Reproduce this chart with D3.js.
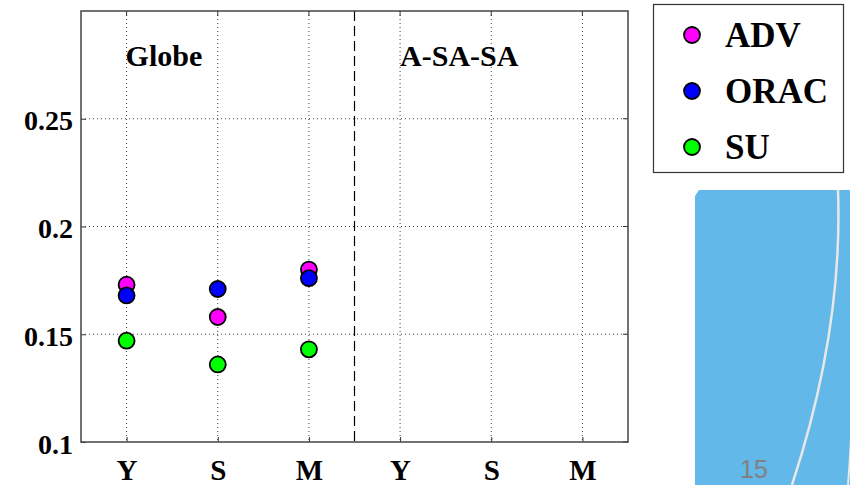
<!DOCTYPE html>
<html><head><meta charset="utf-8">
<script src="https://cdn.jsdelivr.net/npm/d3@7"></script>
<style>body{margin:0;background:#fff;}svg{display:block;}</style>
</head><body>
<svg id="c" width="850" height="485"></svg>
<script>
const categories = ["Y","S","M","Y","S","M"];
const regions = ["Globe","A-SA-SA"];
const series = ["ADV","ORAC","SU"];
const colors = ["#ff00ff","#0000ff","#00ff00"];
const advValues  = [0.173, 0.158, 0.180];
const oracValues = [0.168, 0.171, 0.176];
const suValues   = [0.147, 0.136, 0.143];
const yTicks = [0.1, 0.15, 0.2, 0.25];
const yTickLabels = ["0.1","0.15","0.2","0.25"];
const slideNumber = "15";

const svg = d3.select("#c");
const L = 81, R = 628, T = 11, B = 442;
const x = d3.scaleLinear().domain([0, categories.length]).range([L, R]);
const y = d3.scaleLinear().domain([0.1, 0.3]).range([B, T]);
const xPos = categories.map((c,i)=>i+0.5);

// slide background decoration
const bg = svg.append("g");
bg.append("path").attr("d","M699,190 L850,190 L850,485 L695,485 L695,196 Z").attr("fill","#62b8e8");
bg.append("path").attr("d","M838,190 C842,300 820,400 792,485").attr("fill","none").attr("stroke","#e8e8e8").attr("stroke-width",2.5);
bg.append("path").attr("d","M852,420 C851,440 850,460 848,485").attr("fill","none").attr("stroke","#e8e8e8").attr("stroke-width",2);
bg.append("text").attr("x",740).attr("y",478).attr("font-family","Liberation Sans, Arial, sans-serif")
  .attr("font-size",25).attr("fill","#808080").text(slideNumber);

// grid
const grid = svg.append("g").attr("stroke","#444").attr("stroke-width",1).attr("stroke-dasharray","1,3");
grid.selectAll(".gx").data(xPos).join("line")
  .attr("x1",d=>x(d)).attr("x2",d=>x(d)).attr("y1",T).attr("y2",B);
grid.selectAll(".gy").data(yTicks.slice(1)).join("line")
  .attr("x1",L).attr("x2",R).attr("y1",d=>y(d)).attr("y2",d=>y(d));

// dashed divider
svg.append("line").attr("x1",x(3)).attr("x2",x(3)).attr("y1",T).attr("y2",B)
  .attr("stroke","#000").attr("stroke-width",1.2).attr("stroke-dasharray","10,5");

// axes
const font = "Liberation Serif, Times New Roman, serif";
const yAxis = d3.axisLeft(y).tickValues(yTicks).tickFormat((d,i)=>yTickLabels[i]).tickSizeInner(-5).tickSizeOuter(0).tickPadding(8);
const gy = svg.append("g").attr("transform",`translate(${L},0)`).call(yAxis);
const xAxis = d3.axisBottom(x).tickValues(xPos).tickFormat((d,i)=>categories[i]).tickSizeInner(-5).tickSizeOuter(0).tickPadding(12);
const gx = svg.append("g").attr("transform",`translate(0,${B})`).call(xAxis);
[gx,gy].forEach(g=>{
  g.select(".domain").remove();
  g.selectAll("line").attr("stroke","#333");
  g.selectAll("text").attr("font-family",font).attr("font-weight","bold").attr("fill","#000");
});
gy.selectAll("text").attr("font-size",28).attr("dy","0.4em");
gx.selectAll("text").attr("font-size",29).attr("dy","0.9em");
// right and top ticks
svg.append("g").selectAll("line").data(yTicks).join("line")
  .attr("x1",R).attr("x2",R-5).attr("y1",d=>y(d)).attr("y2",d=>y(d)).attr("stroke","#333");
svg.append("g").selectAll("line").data(xPos).join("line")
  .attr("x1",d=>x(d)).attr("x2",d=>x(d)).attr("y1",T).attr("y2",T+5).attr("stroke","#333");
svg.append("rect").attr("x",L).attr("y",T).attr("width",R-L).attr("height",B-T)
  .attr("fill","none").attr("stroke","#444").attr("stroke-width",1.5);

// region labels
svg.append("text").attr("x",x(0.5)-1).attr("y",66).attr("font-family",font).attr("font-weight","bold")
  .attr("font-size",30).text(regions[0]);
svg.append("text").attr("x",x(3.5)).attr("y",66).attr("font-family",font).attr("font-weight","bold")
  .attr("font-size",30).text(regions[1]);

// points
const allValues = [advValues, oracValues, suValues];
allValues.forEach((vals,si)=>{
  svg.append("g").selectAll("circle").data(vals).join("circle")
    .attr("cx",(d,i)=>x(xPos[i])).attr("cy",d=>y(d)).attr("r",8)
    .attr("fill",colors[si]).attr("stroke","#000").attr("stroke-width",1.8);
});

// legend
const lg = svg.append("g");
lg.append("rect").attr("x",653.5).attr("y",4.5).attr("width",190).attr("height",168)
  .attr("fill","#fff").attr("stroke","#333").attr("stroke-width",1.2);
series.forEach((s,i)=>{
  const cy = 35 + i*56;
  lg.append("circle").attr("cx",692).attr("cy",cy).attr("r",8).attr("fill",colors[i]).attr("stroke","#000").attr("stroke-width",1.8);
  lg.append("text").attr("x",725).attr("y",cy+12).attr("font-family",font).attr("font-weight","bold")
    .attr("font-size",35).text(s);
});
</script>
</body></html>
